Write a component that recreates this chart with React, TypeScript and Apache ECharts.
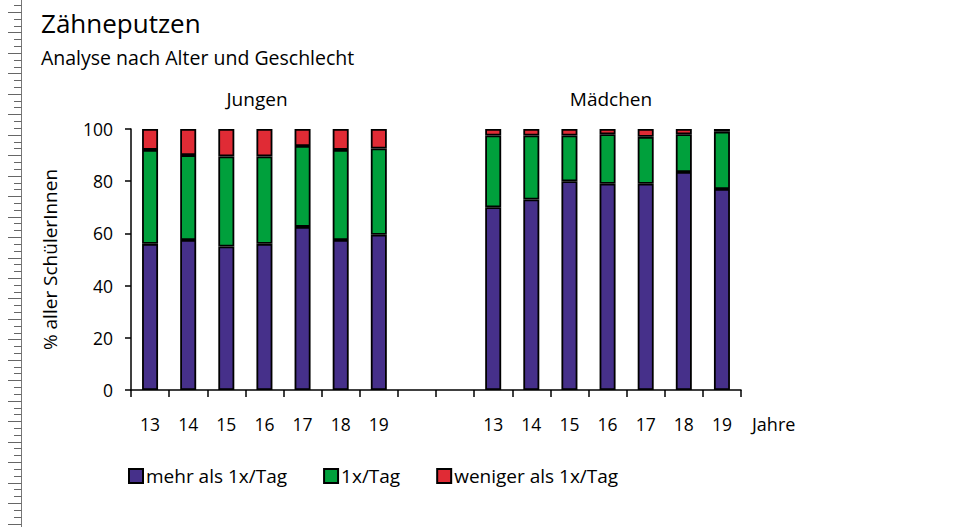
import React, { useEffect, useRef } from "react";
import * as echarts from "echarts";

const ages = ["13", "14", "15", "16", "17", "18", "19"];
const groups = ["Jungen", "Mädchen"];
const seriesNames = ["mehr als 1x/Tag", "1x/Tag", "weniger als 1x/Tag"];
const yTicks = { min: 0, max: 100, interval: 20 };

const jungenMehr = [56, 57.5, 55, 56, 62.5, 57.5, 59.5];
const jungenEinmal = [36, 32.5, 34.5, 33.5, 31, 34.5, 33];
const jungenWeniger = [8, 10, 10.5, 10.5, 6.5, 8, 7.5];

const maedchenMehr = [70, 73, 80, 79, 79, 83.5, 77];
const maedchenEinmal = [27.5, 24.5, 17.5, 19, 18, 14.5, 22];
const maedchenWeniger = [2.5, 2.5, 2.5, 2, 3, 2, 1];

const colors = ["#46308A", "#00A03C", "#E02B35"];
const FONT = "Open Sans";

export default function App() {
  const ref = useRef<HTMLDivElement>(null);
  useEffect(() => {
    if (!ref.current) return;
    const chart = echarts.init(ref.current, null, { renderer: "svg" });

    const categories = [
      ...ages.map((a) => "J-" + a),
      "gap-",
      "gap-",
      ...ages.map((a) => "M-" + a),
    ];
    const build = (j: number[], m: number[]) => [...j, "-", "-", ...m];
    const data = [
      build(jungenMehr, maedchenMehr),
      build(jungenEinmal, maedchenEinmal),
      build(jungenWeniger, maedchenWeniger),
    ];

    // decorative ruler on the left edge
    const ruler: any[] = [
      {
        type: "line",
        shape: { x1: 21.5, y1: 0, x2: 21.5, y2: 527 },
        style: { stroke: "#777", lineWidth: 1 },
        silent: true,
      },
    ];
    for (let k = -1; k <= 75; k++) {
      const y = Math.round(12 + 6.82 * k) + 0.5;
      const long = ((k % 3) + 3) % 3 === 0;
      ruler.push({
        type: "line",
        shape: { x1: long ? 8 : 14, y1: y, x2: 21.5, y2: y },
        style: { stroke: "#666", lineWidth: 1 },
        silent: true,
      });
    }

    chart.setOption({
      animation: false,
      textStyle: { fontFamily: FONT, color: "#000" },
      title: {
        text: "Zähneputzen",
        subtext: "Analyse nach Alter und Geschlecht",
        left: 41,
        top: 9.5,
        padding: 0,
        itemGap: 11.5,
        textStyle: { fontFamily: FONT, fontSize: 26, fontWeight: "normal", color: "#000" },
        subtextStyle: { fontFamily: FONT, fontSize: 19.5, color: "#000" },
      },
      legend: {
        left: 128,
        top: 466.5,
        padding: 0,
        itemWidth: 14,
        itemHeight: 14,
        itemGap: 36,
        icon: "rect",
        textStyle: { fontFamily: FONT, fontSize: 19, color: "#000", padding: [0, 0, 0, -2] },
        data: seriesNames,
      },
      grid: { left: 131, right: 227, top: 129, bottom: 137, containLabel: false },
      xAxis: {
        type: "category",
        data: categories,
        name: "Jahre",
        nameLocation: "end",
        nameGap: 11,
        nameTextStyle: {
          fontFamily: FONT,
          fontSize: 18,
          color: "#000",
          verticalAlign: "top",
          padding: [25, 0, 0, 0],
        },
        axisLine: { lineStyle: { color: "#000", width: 1.5 } },
        axisTick: { show: true, length: 7, lineStyle: { color: "#000", width: 1.5 } },
        axisLabel: {
          margin: 25,
          fontSize: 17.5,
          color: "#000",
          interval: 0,
          formatter: (v: string) => v.split("-")[1] || "",
        },
        splitLine: { show: false },
      },
      yAxis: {
        type: "value",
        min: yTicks.min,
        max: yTicks.max,
        interval: yTicks.interval,
        name: "% aller SchülerInnen",
        nameLocation: "middle",
        nameGap: 71.5,
        nameTextStyle: { fontFamily: FONT, fontSize: 19, color: "#000" },
        axisLine: { show: true, lineStyle: { color: "#000", width: 1.5 } },
        axisTick: { show: true, length: 6, lineStyle: { color: "#000", width: 1.5 } },
        axisLabel: { margin: 18, fontSize: 17.5, color: "#000" },
        splitLine: { show: false },
      },
      series: seriesNames.map((name, i) => ({
        name,
        type: "bar",
        stack: "total",
        barWidth: 16,
        data: data[i],
        itemStyle: { color: colors[i], borderColor: "#000", borderWidth: 1.8 },
      })),
      graphic: [
        ...ruler,
        {
          type: "text",
          x: 257,
          y: 99,
          style: {
            text: groups[0],
            font: `19px "${FONT}"`,
            fill: "#000",
            textAlign: "center",
            textVerticalAlign: "middle",
          },
        },
        {
          type: "text",
          x: 611,
          y: 99,
          style: {
            text: groups[1],
            font: `19px "${FONT}"`,
            fill: "#000",
            textAlign: "center",
            textVerticalAlign: "middle",
          },
        },
      ],
    });
    return () => chart.dispose();
  }, []);
  return <div ref={ref} style={{ width: 968, height: 527, position: "absolute", left: 0, top: 0 }} />;
}
